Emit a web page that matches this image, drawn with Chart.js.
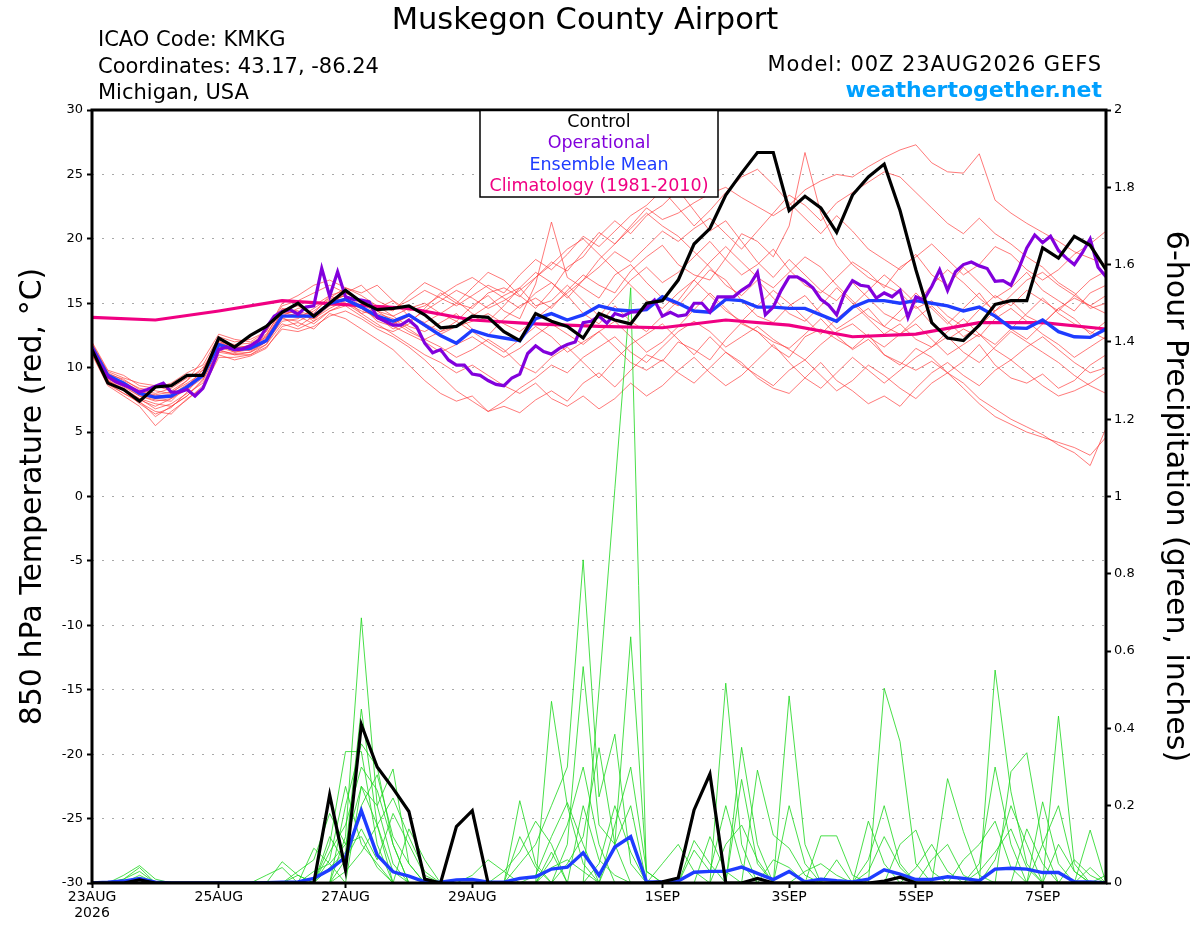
<!DOCTYPE html>
<html>
<head>
<meta charset="utf-8">
<title>Muskegon County Airport</title>
<script src="https://cdn.jsdelivr.net/npm/chart.js@4.4.1/dist/chart.umd.min.js"></script>
<style>
  html, body { margin: 0; padding: 0; background: #fff; }
  #wrap { width: 1200px; height: 927px; }
</style>
</head>
<body>
<div id="wrap"><canvas id="plumeChart" width="1200" height="927"></canvas></div>
<script>
// x axis: hours after 00Z 23AUG2026
const tickHours = [0, 48, 96, 144, 216, 264, 312, 360];
const tickLabels = [['23AUG', '2026'], '25AUG', '27AUG', '29AUG', '1SEP', '3SEP', '5SEP', '7SEP'];

// 850 hPa temperature, 6-hourly (degC)
const controlTemp = [11.4, 8.8, 8.3, 7.4, 8.5, 8.6, 9.4, 9.4, 12.3, 11.6,
  12.5, 13.2, 14.3, 15.0, 14.0, 15.0, 16.0, 15.1, 14.5, 14.6,
  14.8, 14.1, 13.1, 13.2, 14.0, 13.9, 12.8, 12.1, 14.2, 13.6,
  13.2, 12.3, 14.2, 13.7, 13.4, 15.0, 15.2, 16.8, 19.6, 20.8,
  23.4, 25.1, 26.7, 26.7, 22.2, 23.3, 22.4, 20.5, 23.4, 24.8,
  25.8, 22.2, 17.6, 13.5, 12.3, 12.1, 13.3, 14.9, 15.2, 15.2,
  19.3, 18.5, 20.2, 19.5, 17.6];

const meanTemp = [11.6, 9.4, 8.8, 8.0, 7.7, 7.8, 8.5, 9.4, 11.8, 11.4,
  11.5, 12.1, 14.0, 14.0, 14.0, 15.0, 15.3, 14.7, 14.0, 13.6,
  14.1, 13.3, 12.5, 11.9, 12.9, 12.5, 12.3, 12.1, 13.8, 14.2,
  13.7, 14.1, 14.8, 14.5, 14.4, 14.5, 15.5, 15.0, 14.4, 14.3,
  15.3, 15.2, 14.7, 14.7, 14.6, 14.6, 14.1, 13.6, 14.7, 15.2,
  15.2, 15.0, 15.2, 15.0, 14.8, 14.4, 14.7, 14.0, 13.1, 13.05,
  13.7, 12.8, 12.4, 12.35, 13.0];

// operational run, 3-hourly
const operTemp = [11.5, 10.3, 9.3, 8.9, 8.65, 8.4, 8.1, 8.3, 8.55, 8.8,
  8.1, 8.1, 8.3, 7.8, 8.4, 9.8, 11.4, 11.6, 11.4, 11.45,
  11.7, 12.1, 13.1, 14.0, 14.35, 14.5, 14.15, 14.7, 14.8, 17.7,
  15.55, 17.45, 15.5, 15.3, 15.25, 15.1, 13.9, 13.6, 13.3, 13.3,
  13.7, 13.15, 11.9, 11.15, 11.4, 10.6, 10.2, 10.2, 9.5, 9.4,
  9.0, 8.7, 8.6, 9.2, 9.5, 11.1, 11.7, 11.25, 11.05, 11.5,
  11.8, 12.0, 13.5, 13.6, 14.0, 13.45, 14.2, 14.0, 14.3, 14.35,
  14.7, 15.25, 14.0, 14.3, 14.0, 14.1, 15.0, 15.0, 14.3, 15.5,
  15.5, 15.5, 16.0, 16.4, 17.4, 14.1, 14.7, 16.0, 17.05, 17.05,
  16.7, 16.2, 15.3, 14.85, 14.1, 15.8, 16.75, 16.4, 16.3, 15.4,
  15.8, 15.5, 16.0, 13.9, 15.5, 15.25, 16.3, 17.6, 16.0, 17.45,
  18.0, 18.2, 17.9, 17.7, 16.7, 16.75, 16.4, 17.7, 19.3, 20.3,
  19.7, 20.2, 19.1, 18.5, 18.0, 18.9, 20.0, 17.8, 17.05];

// climatology 1981-2010, daily
const climTemp = [13.9, 13.7, 14.4, 15.2, 14.9, 14.6, 13.7, 13.4, 13.2, 13.1,
  13.7, 13.3, 12.4, 12.6, 13.5, 13.5, 13.0];

// ensemble members, 6-hourly
const memberTemps = [
  [11.8, 9.6, 9.0, 8.4, 8.2, 8.0, 9.0, 10.0, 12.0, 11.8, 11.9, 12.6,
   14.5, 14.8, 14.2, 15.6, 15.0, 14.2, 14.6, 15.2, 14.0, 13.5, 14.2, 15.0,
   14.6, 15.8, 16.2, 15.5, 17.0, 18.2, 17.5, 19.0, 20.5, 19.6, 21.0, 22.4,
   21.5, 22.0, 22.8, 23.5, 24.0, 23.2, 22.5, 21.8, 22.6, 23.8, 24.5, 25.0,
   24.8, 25.6, 26.3, 26.9, 27.3, 25.9, 25.2, 25.1, 26.6, 23.0, 22.0, 21.2,
   20.5, 19.8, 19.0, 18.5, 18.0],
  [11.2, 9.0, 8.2, 7.6, 6.8, 7.2, 8.0, 8.8, 11.2, 11.0, 11.2, 12.0,
   13.6, 13.8, 14.6, 15.4, 16.2, 15.6, 14.8, 14.0, 13.2, 12.8, 13.5, 14.2,
   13.0, 12.5, 13.8, 14.8, 15.4, 14.6, 16.0, 17.2, 16.4, 15.8, 17.5, 18.6,
   19.5, 18.0, 17.2, 16.8, 18.5, 20.4, 19.8, 18.6, 21.0, 26.7, 22.0, 19.5,
   18.0, 17.0, 16.4, 15.8, 14.6, 15.2, 14.0, 13.2, 14.5, 15.6, 14.8, 16.0,
   15.2, 14.4, 15.6, 16.8, 17.5],
  [11.0, 8.6, 7.8, 7.0, 5.5, 6.6, 7.5, 8.6, 11.0, 10.6, 10.9, 11.5,
   13.2, 13.5, 13.0, 14.2, 13.8, 13.0, 12.2, 11.4, 10.2, 9.0, 8.0, 7.4,
   7.8, 6.6, 7.0, 6.5, 7.5, 8.2, 7.4, 8.8, 9.6, 8.5, 9.8, 11.0,
   10.5, 12.0, 11.4, 10.6, 12.2, 13.5, 12.8, 11.6, 10.8, 12.4, 13.0, 12.2,
   11.5, 12.6, 11.0, 10.2, 11.5, 10.8, 9.6, 10.5, 11.8, 10.2, 9.2, 8.8,
   9.5, 8.4, 9.0, 10.2, 11.0],
  [11.5, 9.2, 8.6, 7.8, 7.4, 7.6, 8.3, 9.2, 11.6, 11.2, 11.4, 12.0,
   14.2, 14.4, 13.6, 15.2, 15.6, 14.8, 13.6, 13.2, 12.6, 12.0, 11.2, 11.8,
   12.4, 11.6, 10.8, 11.5, 12.5, 13.4, 12.6, 11.8, 12.8, 13.6, 12.4, 11.2,
   12.0, 13.2, 14.5, 15.8, 14.6, 13.4, 12.8, 12.0, 11.5, 12.6, 13.8, 12.5,
   11.4, 12.2, 11.0, 10.4, 9.8, 10.5, 9.6, 8.8, 7.6, 6.8, 6.0, 5.4,
   4.8, 4.0, 3.4, 2.4, 5.3],
  [12.0, 9.8, 9.4, 8.6, 8.4, 8.8, 9.6, 10.2, 12.4, 12.0, 12.2, 12.8,
   14.8, 15.2, 15.8, 16.4, 15.8, 15.2, 14.4, 14.0, 14.6, 15.0, 14.2, 13.6,
   14.8, 15.6, 14.4, 13.8, 16.5, 21.3, 17.0, 16.2, 15.4, 17.2, 18.0, 16.6,
   15.4, 14.8, 16.2, 17.6, 16.8, 15.2, 14.0, 13.5, 14.8, 15.6, 14.2, 13.0,
   13.8, 14.6, 13.2, 12.6, 13.8, 14.8, 13.6, 12.4, 13.2, 14.4, 15.2, 14.0,
   13.4, 14.6, 15.4, 14.8, 15.6],
  [11.4, 9.0, 8.4, 7.6, 7.2, 7.0, 7.8, 9.0, 11.4, 11.0, 11.0, 11.8,
   13.8, 13.6, 14.2, 14.8, 15.8, 16.4, 15.2, 14.6, 15.2, 16.0, 15.4, 14.8,
   15.6, 16.4, 15.8, 17.2, 18.4, 17.6, 18.8, 20.2, 19.4, 20.6, 21.8, 22.6,
   23.8, 22.4, 21.0, 22.2, 23.6, 24.8, 25.4, 24.2, 22.8, 21.6, 20.4, 21.8,
   20.6, 19.2, 18.4, 17.6, 18.8, 17.2, 16.4, 17.8, 16.6, 15.4, 16.2, 17.4,
   16.0, 15.2, 14.4, 15.8, 16.4],
  [11.3, 8.9, 8.2, 7.2, 6.4, 6.9, 8.1, 9.6, 11.9, 11.5, 11.7, 12.4,
   14.0, 14.6, 14.8, 15.6, 16.0, 15.0, 14.2, 13.8, 13.0, 12.2, 11.6, 10.8,
   11.4, 12.2, 11.4, 10.2, 9.6, 10.8, 11.6, 10.4, 9.2, 10.6, 11.8, 12.6,
   13.4, 12.2, 11.0, 12.4, 11.2, 10.2, 9.4, 8.6, 9.8, 10.6, 9.4, 8.2,
   9.0, 10.2, 9.4, 8.4, 7.6, 8.8, 9.6, 8.4, 7.2, 6.2, 5.6, 5.0,
   4.6, 4.2, 3.8, 3.2, 4.6],
  [11.7, 9.5, 9.1, 8.3, 8.0, 8.4, 9.2, 9.8, 12.2, 11.6, 11.4, 12.2,
   14.4, 14.2, 13.8, 14.6, 15.2, 14.6, 13.8, 13.4, 14.0, 13.2, 12.6, 13.2,
   14.0, 14.8, 15.6, 16.2, 14.8, 15.2, 16.4, 15.2, 14.0, 15.4, 16.8, 17.8,
   16.6, 17.4, 18.6, 19.8, 18.4, 17.2, 18.0, 19.2, 17.6, 16.4, 15.8, 17.0,
   18.2, 17.4, 16.2, 17.8, 18.6, 19.6, 18.4, 17.2, 18.0, 19.4, 18.8, 17.6,
   16.8, 17.6, 18.8, 19.6, 20.6],
  [11.6, 9.1, 8.5, 7.8, 7.5, 7.4, 8.6, 9.8, 12.1, 11.3, 11.6, 12.3,
   13.9, 13.2, 14.0, 14.9, 15.4, 14.2, 13.4, 12.6, 11.8, 11.0, 10.4, 9.6,
   10.2, 9.4, 8.6, 8.0, 8.8, 7.6, 7.0, 7.8, 6.8, 7.6, 8.8, 7.8,
   8.6, 9.8, 10.8, 9.6, 8.6, 9.4, 10.6, 11.8, 10.4, 9.2, 8.4, 9.6,
   10.8, 9.8, 8.8, 9.8, 10.8, 11.6, 12.4, 11.2, 10.4, 11.6, 12.8, 12.0,
   11.2, 10.4, 9.4, 8.6, 8.0],
  [11.9, 9.7, 9.2, 8.8, 8.6, 8.2, 9.0, 10.6, 12.6, 12.2, 12.0, 12.8,
   15.0, 15.6, 16.4, 16.8, 16.2, 15.8, 16.4, 15.2, 14.4, 14.8, 15.6, 16.4,
   17.0, 16.2, 15.4, 14.6, 15.8, 16.6, 15.6, 14.2, 13.4, 14.8, 13.6, 12.8,
   14.0, 15.2, 16.8, 18.2, 19.4, 18.2, 17.0, 16.2, 17.4, 18.6, 17.8, 16.4,
   15.2, 14.0, 13.2, 14.4, 15.8, 14.6, 13.4, 14.6, 15.8, 14.2, 13.0, 12.2,
   13.4, 14.6, 13.8, 12.6, 13.6],
  [11.1, 8.7, 8.0, 7.4, 6.2, 7.0, 7.8, 9.1, 11.3, 11.1, 11.2, 11.8,
   13.4, 13.0, 13.6, 14.4, 14.8, 14.0, 13.2, 12.8, 13.4, 14.6, 15.8, 15.0,
   16.2, 17.4, 16.8, 15.6, 14.6, 16.0, 17.8, 18.6, 20.2, 21.4, 20.4, 21.8,
   22.6, 23.8, 22.2, 20.6, 21.4, 19.8, 18.2, 17.0, 18.4, 17.2, 16.0, 15.2,
   16.6, 15.4, 14.2, 13.6, 14.8, 13.4, 12.2, 13.0, 12.4, 13.8, 14.6, 13.6,
   12.6, 11.8, 10.8, 11.6, 12.4],
  [11.8, 9.3, 8.7, 8.1, 7.9, 8.1, 8.8, 9.6, 11.6, 11.4, 11.8, 12.5,
   14.6, 14.4, 14.0, 15.2, 15.6, 15.0, 14.8, 14.4, 15.6, 16.6, 16.0, 15.2,
   14.2, 13.6, 14.8, 16.2, 17.4, 16.6, 15.4, 16.8, 17.8, 19.0, 18.2, 19.4,
   20.6, 19.8, 20.8, 21.6, 20.4, 19.2, 20.6, 22.0, 23.4, 22.6, 21.4, 22.8,
   23.6, 24.4, 25.2, 24.8, 23.6, 22.4, 21.2, 20.4, 21.6, 20.4, 19.6, 18.6,
   17.8, 16.6, 15.8, 14.6, 15.0],
  [11.4, 9.0, 8.3, 7.5, 7.0, 7.6, 8.6, 9.6, 11.7, 11.6, 11.3, 12.0,
   14.1, 13.9, 14.4, 15.3, 15.8, 15.2, 14.4, 13.6, 12.8, 12.2, 12.8, 13.6,
   12.8, 12.0, 11.2, 12.2, 13.2, 12.4, 11.2, 12.0, 12.8, 11.6, 10.4, 9.8,
   10.6, 9.6, 8.8, 10.0, 11.2, 10.4, 9.2, 8.4, 8.0, 9.2, 10.4, 9.0,
   8.2, 7.2, 7.8, 7.0, 8.4, 9.6, 10.4, 9.4, 8.6, 9.8, 10.6, 9.6,
   8.6, 7.8, 8.2, 8.8, 9.6],
  [11.5, 9.3, 8.9, 8.2, 7.8, 7.9, 8.7, 9.3, 11.9, 11.7, 11.6, 12.4,
   14.3, 14.0, 13.4, 14.4, 15.0, 14.4, 14.0, 13.0, 13.6, 14.4, 15.2, 16.0,
   15.4, 14.6, 15.2, 16.0, 17.0, 18.0, 19.2, 20.0, 18.8, 17.6, 16.4, 15.2,
   14.6, 15.8, 16.8, 15.6, 14.4, 13.6, 14.8, 16.0, 15.0, 13.8, 12.6, 13.8,
   14.8, 16.0, 17.2, 16.2, 15.0, 16.4, 17.6, 16.6, 15.4, 14.4, 15.6, 16.8,
   17.4, 16.4, 15.6, 14.8, 14.2],
  [11.2, 8.8, 8.0, 7.3, 6.6, 6.4, 7.6, 8.4, 10.8, 10.8, 11.0, 11.6,
   13.0, 12.8, 13.2, 14.0, 14.4, 13.8, 13.0, 12.4, 11.6, 10.6, 9.4, 8.2,
   7.4, 6.6, 7.4, 8.4, 9.2, 10.2, 9.6, 10.8, 11.6, 12.4, 11.2, 10.4,
   11.6, 12.8, 13.6, 12.8, 11.6, 12.4, 13.2, 12.2, 11.4, 10.6, 11.8, 12.8,
   13.4, 12.4, 11.6, 12.6, 13.4, 12.2, 11.0, 11.8, 12.6, 11.4, 10.6, 11.6,
   12.4, 11.4, 10.4, 9.6, 10.0],
  [11.6, 9.4, 8.7, 7.9, 7.6, 7.7, 8.4, 9.5, 11.8, 11.2, 11.5, 12.1,
   14.0, 14.2, 13.8, 14.8, 15.0, 14.6, 13.8, 13.4, 14.0, 13.4, 12.8, 13.2,
   13.6, 14.2, 13.4, 12.8, 13.8, 14.8, 15.8, 16.8, 18.4, 19.6, 20.8, 22.0,
   21.0, 20.2, 19.0, 17.8, 16.4, 15.6, 16.8, 15.4, 14.2, 13.6, 14.8, 16.2,
   15.0, 13.8, 12.6, 13.4, 12.2, 11.6, 12.8, 13.8, 12.6, 11.8, 13.0, 14.2,
   15.4, 14.2, 13.4, 12.8, 12.2]
];

// 6-hour precipitation, 6-hourly (inches)
const controlPrecip = [0, 0, 0, 0.008, 0, 0, 0, 0, 0, 0,
  0, 0, 0, 0, 0, 0.228, 0.034, 0.41, 0.30, 0.245,
  0.185, 0.01, 0, 0.146, 0.187, 0, 0, 0, 0, 0,
  0, 0, 0, 0, 0, 0, 0.003, 0.013, 0.189, 0.282,
  0, 0, 0.012, 0, 0, 0, 0, 0, 0, 0,
  0.005, 0.015, 0, 0, 0, 0, 0, 0, 0, 0,
  0, 0, 0, 0, 0];

const meanPrecip = [0, 0.002, 0.005, 0.012, 0.002, 0, 0, 0, 0, 0,
  0, 0.001, 0.002, 0.003, 0.012, 0.034, 0.067, 0.187, 0.072, 0.029,
  0.018, 0.003, 0.002, 0.008, 0.009, 0.002, 0.002, 0.012, 0.016, 0.036,
  0.041, 0.078, 0.02, 0.093, 0.12, 0.003, 0.003, 0.005, 0.028, 0.03,
  0.03, 0.041, 0.025, 0.009, 0.03, 0.003, 0.01, 0.006, 0.003, 0.01,
  0.034, 0.023, 0.009, 0.009, 0.016, 0.012, 0.006, 0.036, 0.038, 0.036,
  0.027, 0.027, 0.003, 0.003, 0];

const memberPrecips = [
  [0, 0, 0.01, 0.04, 0, 0, 0, 0, 0, 0,
   0, 0, 0, 0, 0, 0.1, 0.34, 0.34, 0.1, 0,
   0, 0, 0, 0, 0, 0, 0, 0, 0, 0.47,
   0.2, 0.05, 0, 0, 0, 0, 0, 0, 0, 0,
   0.517, 0.1, 0, 0, 0, 0, 0, 0, 0, 0,
   0.504, 0.366, 0.05, 0, 0, 0, 0, 0, 0, 0,
   0, 0.432, 0.05, 0, 0],
  [0, 0, 0.01, 0.03, 0, 0, 0, 0, 0, 0,
   0, 0, 0, 0, 0, 0, 0.12, 0.686, 0.2, 0.05,
   0, 0, 0, 0, 0, 0, 0, 0, 0, 0,
   0, 0, 0.5, 1.02, 1.54, 0, 0, 0, 0, 0,
   0, 0, 0, 0, 0.484, 0.1, 0, 0, 0, 0,
   0, 0, 0, 0, 0, 0, 0, 0.551, 0.236, 0.05,
   0, 0, 0, 0, 0],
  [0, 0, 0, 0, 0, 0, 0, 0, 0, 0,
   0, 0, 0.055, 0.02, 0, 0.08, 0.15, 0.3, 0.24, 0.1,
   0, 0, 0, 0, 0, 0, 0, 0.05, 0.1, 0.2,
   0.3, 0.836, 0.223, 0.385, 0.05, 0, 0, 0, 0, 0,
   0, 0.351, 0.1, 0, 0, 0, 0, 0, 0, 0,
   0, 0, 0, 0, 0.27, 0.133, 0.02, 0, 0, 0,
   0.21, 0.05, 0, 0, 0],
  [0, 0, 0, 0, 0, 0, 0, 0, 0, 0,
   0, 0, 0, 0, 0.09, 0.05, 0, 0.25, 0.2, 0.295,
   0.05, 0, 0, 0, 0, 0, 0, 0.213, 0.05, 0,
   0.1, 0.56, 0.15, 0.1, 0.637, 0.03, 0, 0, 0, 0,
   0, 0.268, 0.05, 0, 0, 0, 0, 0, 0, 0.16,
   0.05, 0, 0, 0, 0, 0, 0, 0, 0.288, 0.337,
   0.1, 0, 0, 0, 0],
  [0, 0, 0.02, 0.045, 0.01, 0, 0, 0, 0, 0,
   0, 0, 0, 0, 0, 0, 0.2, 0.36, 0.3, 0.1,
   0, 0, 0, 0, 0, 0, 0, 0, 0.02, 0.12,
   0.208, 0.1, 0, 0.1, 0.2, 0, 0, 0, 0, 0,
   0, 0, 0.292, 0.124, 0.09, 0.02, 0, 0, 0, 0,
   0, 0.1, 0.137, 0.03, 0, 0, 0, 0, 0, 0,
   0, 0, 0, 0.137, 0],
  [0, 0, 0, 0.02, 0, 0, 0, 0, 0, 0,
   0, 0, 0, 0.03, 0.06, 0.18, 0.1, 0.25, 0.15, 0,
   0, 0, 0, 0, 0, 0, 0.03, 0.08, 0.16, 0.1,
   0, 0, 0, 0, 0, 0, 0, 0, 0.11, 0.05,
   0, 0, 0, 0, 0, 0, 0.122, 0.122, 0.02, 0,
   0, 0, 0, 0, 0, 0, 0, 0.06, 0.2, 0.1,
   0, 0, 0, 0, 0],
  [0, 0, 0, 0, 0, 0, 0, 0, 0, 0,
   0, 0, 0, 0, 0, 0.12, 0.05, 0.2, 0.28, 0.12,
   0.05, 0, 0, 0, 0, 0, 0, 0, 0, 0.06,
   0.15, 0.3, 0.1, 0, 0, 0, 0, 0, 0.085, 0.03,
   0.2, 0.05, 0, 0, 0, 0, 0, 0, 0, 0.06,
   0.2, 0.05, 0, 0, 0, 0, 0.05, 0.3, 0.1, 0,
   0, 0, 0.06, 0.02, 0],
  [0, 0, 0, 0, 0, 0, 0, 0, 0, 0,
   0, 0, 0, 0, 0, 0, 0.06, 0.14, 0.06, 0.18,
   0.1, 0.02, 0, 0, 0, 0, 0, 0, 0, 0,
   0.05, 0.12, 0.35, 0.1, 0, 0, 0, 0, 0, 0,
   0.1, 0.15, 0.06, 0, 0, 0, 0, 0, 0, 0,
   0, 0, 0, 0.06, 0.1, 0.02, 0, 0, 0, 0,
   0.1, 0.2, 0.03, 0, 0],
  [0, 0, 0, 0, 0, 0, 0, 0, 0, 0,
   0, 0.02, 0.04, 0, 0.03, 0.05, 0.1, 0.12, 0.04, 0,
   0, 0, 0, 0, 0.02, 0.06, 0.03, 0, 0, 0,
   0, 0, 0, 0.15, 0.3, 0.03, 0, 0, 0, 0,
   0, 0, 0, 0, 0.2, 0.05, 0, 0.06, 0, 0,
   0, 0, 0, 0, 0, 0.06, 0.1, 0.16, 0.04, 0,
   0, 0, 0, 0, 0.02],
  [0, 0, 0, 0, 0, 0, 0, 0, 0, 0,
   0, 0, 0, 0, 0, 0, 0.03, 0.08, 0.15, 0.22,
   0.12, 0.03, 0, 0, 0, 0, 0, 0, 0, 0.04,
   0.06, 0.03, 0, 0, 0, 0, 0.05, 0.1, 0.03, 0,
   0, 0, 0, 0.06, 0.04, 0, 0, 0, 0, 0.03,
   0.12, 0.04, 0, 0, 0, 0, 0, 0, 0, 0.14,
   0.05, 0, 0, 0.04, 0],
  [0, 0, 0, 0, 0, 0, 0, 0, 0, 0,
   0, 0, 0, 0, 0, 0.04, 0.08, 0.45, 0.15, 0.03,
   0, 0, 0, 0, 0, 0, 0, 0.12, 0.04, 0,
   0, 0, 0.05, 0.2, 0.08, 0, 0, 0, 0, 0.12,
   0.03, 0, 0, 0, 0, 0, 0, 0, 0, 0,
   0, 0, 0.04, 0.1, 0.03, 0, 0, 0, 0, 0,
   0, 0.1, 0.03, 0, 0],
  [0, 0, 0, 0, 0, 0, 0, 0, 0, 0,
   0, 0, 0, 0.02, 0, 0.06, 0.25, 0.1, 0.05, 0,
   0.14, 0.06, 0, 0, 0, 0, 0, 0, 0, 0.08,
   0, 0.2, 0.06, 0.02, 0, 0, 0, 0, 0, 0,
   0, 0, 0, 0, 0, 0.03, 0.05, 0.02, 0, 0,
   0, 0, 0, 0, 0, 0, 0.03, 0.08, 0.14, 0.04,
   0, 0, 0, 0, 0]
];

const legendItems = [
  { text: 'Control', color: '#000000' },
  { text: 'Operational', color: '#8200dc' },
  { text: 'Ensemble Mean', color: '#1e3cff' },
  { text: 'Climatology (1981-2010)', color: '#f00082' }
];

const FONT = 'DejaVu Sans';
Chart.defaults.font.family = FONT;
Chart.defaults.color = '#000';

function series(values, stepHours) {
  return values.map((v, i) => ({ x: i * stepHours, y: v }));
}

function line(label, values, step, axis, color, width) {
  return {
    label: label,
    data: series(values, step),
    yAxisID: axis,
    borderColor: color,
    borderWidth: width,
    pointRadius: 0,
    tension: 0,
    fill: false
  };
}

// first dataset is drawn on top
const datasets = [
  line('Control', controlTemp, 6, 'yT', '#000000', 3.2),
  line('Operational', operTemp, 3, 'yT', '#8200dc', 3.2),
  line('Ensemble Mean', meanTemp, 6, 'yT', '#1e3cff', 3.4),
  line('Control precip', controlPrecip, 6, 'yP', '#000000', 3.2),
  line('Ensemble Mean precip', meanPrecip, 6, 'yP', '#1e3cff', 3.4),
  line('Climatology (1981-2010)', climTemp, 24, 'yT', '#f00082', 3.2)
];
memberPrecips.forEach((m, k) => datasets.push(line('precip member ' + (k + 1), m, 6, 'yP', 'rgba(30,215,30,0.9)', 0.9)));
memberTemps.forEach((m, k) => datasets.push(line('temp member ' + (k + 1), m, 6, 'yT', 'rgba(255,55,55,0.75)', 0.9)));

const framePlugin = {
  id: 'frameAndLegend',
  afterDatasetsDraw(chart) {
    const { ctx, chartArea: a } = chart;
    ctx.save();
    ctx.strokeStyle = '#000';
    ctx.lineWidth = 3;
    ctx.strokeRect(a.left, a.top, a.right - a.left, a.bottom - a.top);

    // legend box
    const bx = 480, bw = 238, by = a.top, bh = 87;
    ctx.fillStyle = '#fff';
    ctx.fillRect(bx, by + 1.5, bw, bh - 1.5);
    ctx.lineWidth = 1.5;
    ctx.strokeRect(bx, by, bw, bh);
    ctx.font = '17.5px "' + FONT + '"';
    ctx.textAlign = 'center';
    ctx.textBaseline = 'alphabetic';
    legendItems.forEach((it, i) => {
      ctx.fillStyle = it.color;
      ctx.fillText(it.text, bx + bw / 2, 127 + i * 21.4);
    });
    ctx.restore();
  },
  afterDraw(chart) {
    const ctx = chart.ctx;
    ctx.save();
    ctx.fillStyle = '#000';
    ctx.textBaseline = 'alphabetic';
    ctx.textAlign = 'center';
    ctx.font = '30.5px "' + FONT + '"';
    ctx.fillText('Muskegon County Airport', 585, 29);

    ctx.textAlign = 'left';
    ctx.font = '21px "' + FONT + '"';
    ctx.fillText('ICAO Code: KMKG', 98, 46);
    ctx.fillText('Coordinates: 43.17, -86.24', 98, 72.5);
    ctx.fillText('Michigan, USA', 98, 99);

    ctx.textAlign = 'right';
    ctx.letterSpacing = '0.9px';
    ctx.fillText('Model: 00Z 23AUG2026 GEFS', 1102, 71);
    ctx.letterSpacing = '0px';
    ctx.font = 'bold 22px "' + FONT + '"';
    ctx.fillStyle = '#00a0ff';
    ctx.fillText('weathertogether.net', 1102, 97);
    ctx.restore();
  }
};

new Chart(document.getElementById('plumeChart'), {
  type: 'line',
  data: { datasets: datasets },
  options: {
    responsive: false,
    devicePixelRatio: 1,
    animation: false,
    normalized: true,
    layout: { padding: { top: 110, left: 0, right: 0, bottom: 0 } },
    plugins: {
      legend: { display: false },
      tooltip: { enabled: false }
    },
    scales: {
      x: {
        type: 'linear',
        min: 0,
        max: 384,
        afterBuildTicks(scale) { scale.ticks = tickHours.map(v => ({ value: v })); },
        afterFit(scale) { scale.height = 44; },
        ticks: {
          autoSkip: false,
          maxRotation: 0,
          padding: 2,
          font: { size: 14, lineHeight: 1.1 },
          color: '#000',
          callback: (v, i) => tickLabels[i]
        },
        grid: { drawOnChartArea: false, drawTicks: true, tickLength: 5, tickColor: '#000', tickWidth: 2 },
        border: { display: false }
      },
      yT: {
        type: 'linear',
        position: 'left',
        min: -30,
        max: 30,
        afterFit(scale) { scale.width = 92; },
        ticks: { stepSize: 5, padding: 4, font: { size: 13 }, color: '#000' },
        grid: {
          color: '#a8a8a8',
          lineWidth: 1,
          tickLength: 5,
          tickColor: '#000',
          tickWidth: 2,
          tickBorderDash: []
        },
        border: { display: false, dash: [2, 8] },
        title: {
          display: true,
          text: '850 hPa Temperature (red, °C)',
          font: { size: 30 },
          color: '#000',
          padding: { top: 15, bottom: 0 }
        }
      },
      yP: {
        type: 'linear',
        position: 'right',
        min: 0,
        max: 2,
        afterFit(scale) { scale.width = 94; },
        ticks: {
          stepSize: 0.2,
          padding: 3,
          font: { size: 13 },
          color: '#000',
          callback: v => String(Math.round(v * 10) / 10)
        },
        grid: { drawOnChartArea: false, tickLength: 5, tickColor: '#000', tickWidth: 2 },
        border: { display: false },
        title: {
          display: true,
          text: '6-hour Precipitation (green, inches)',
          font: { size: 30 },
          color: '#000',
          padding: { top: 7, bottom: 0 }
        }
      }
    }
  },
  plugins: [framePlugin]
});
</script>
</body>
</html>
